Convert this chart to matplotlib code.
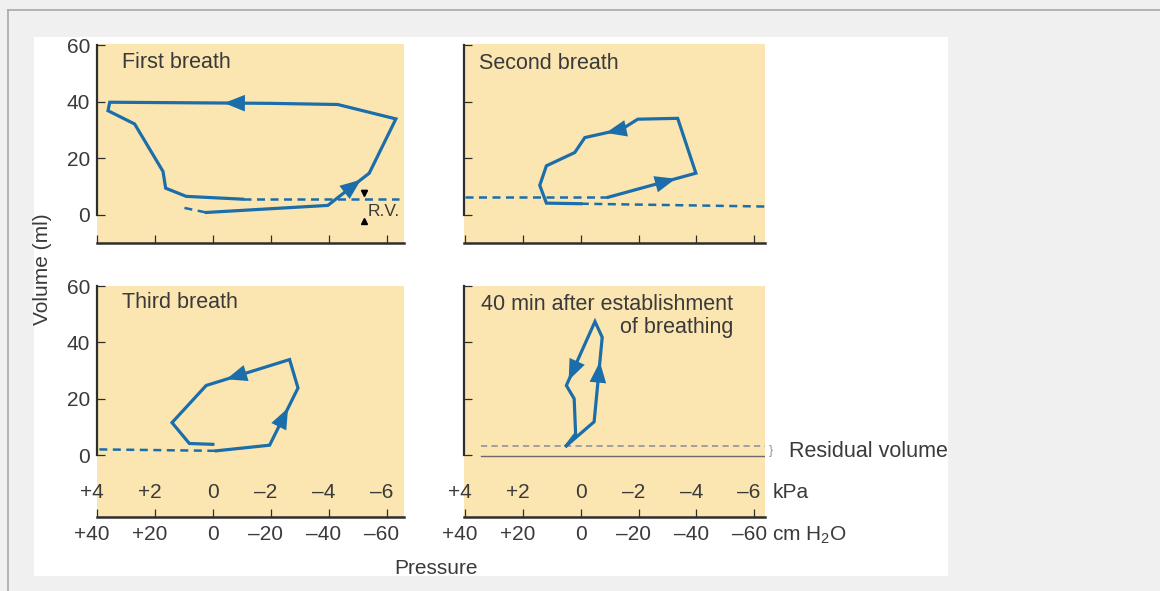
#!/usr/bin/env python3

# Pressure-volume loops of the newborn lung: first, second and third breath,
# and 40 min after breathing is established.

import matplotlib
matplotlib.use("Agg")
import matplotlib.pyplot as plt
from matplotlib.lines import Line2D
from matplotlib.patches import Rectangle
import numpy as np

OUTPUT_FILE = "out.png"

BEIGE = "#fbe6b2"
BLUE = "#1b6ea9"
TEXT = "#3a3a3a"
AXIS = "#2e2e2e"

# Pressure in cm H2O (positive to the left), volume in ml
first_p = [2.3, -39.7, -54.0, -63.2, -43.1, -20.0, 35.6, 36.2, 27.0, 17.2, 16.3, 9.2, -10.3]
first_v = [0.8, 3.3, 14.7, 33.9, 39.0, 39.4, 39.8, 36.8, 32.1, 15.3, 9.4, 6.5, 5.5]
first_lead_p = [9.8, 2.3]
first_lead_v = [2.4, 0.8]
first_rv_p = [-10.3, -64.4]
first_rv_v = [5.5, 5.5]
first_arrows = [(1, 0.68), (5, 0.17)]

second_p = [-9.5, -39.8, -33.5, -19.7, -14.1, -1.4, 2.1, 11.9, 14.2, 11.9, 0.0]
second_v = [6.2, 14.7, 34.1, 33.8, 30.2, 27.3, 22.0, 17.3, 10.4, 4.1, 3.9]
second_lead_p = [40.2, -9.5]
second_lead_v = [6.2, 6.2]
second_rv_p = [0.0, -64.0]
second_rv_v = [3.9, 2.9]
second_arrows = [(0, 0.65), (4, 0.31)]

third_p = [-1.2, -19.6, -29.4, -26.5, 2.3, 14.1, 8.1, 0.0]
third_v = [1.5, 3.5, 23.8, 33.9, 24.7, 11.5, 4.1, 3.8]
third_lead_p = [39.2, -1.2]
third_lead_v = [2.0, 1.5]
third_arrows = [(1, 0.53), (3, 0.64)]

fourth_p = [5.0, -4.6, -7.4, -4.9, 5.0, 2.3, 1.8, 5.0]
fourth_v = [3.3, 11.8, 41.8, 47.4, 24.7, 20.0, 7.6, 3.3]
fourth_arrows = [(1, 0.59), (3, 0.8)]
residual_p = [34.5, -63.8]
residual_v = [3.3, 3.3]
zero_v = [-0.5, -0.5]

cm_ticks = [40, 20, 0, -20, -40, -60]
cm_labels = ["+40", "+20", "0", "\u201320", "\u201340", "\u201360"]
kpa_labels = ["+4", "+2", "0", "\u20132", "\u20134", "\u20136"]
vol_ticks = [0, 20, 40, 60]

# the sign hangs to the left of the tick, digits sit over it
SIGN_SHIFT = 1.8


# Draw an arrow head on the loop, part way along one segment.
def add_arrow(ax, px, vx, seg, frac):
    p0 = np.array([px[seg], vx[seg]])
    p1 = np.array([px[seg + 1], vx[seg + 1]])
    mid = p0 + frac * (p1 - p0)
    step = 0.12 * (p1 - p0)
    ax.annotate(
        "", xy=mid + step, xytext=mid - step,
        arrowprops=dict(arrowstyle="-|>,head_length=0.75,head_width=0.3",
                        color=BLUE, lw=0, mutation_scale=20,
                        shrinkA=0, shrinkB=0),
    )


# Common styling for one panel.
def style_panel(ax, xlim, ylim, show_y):
    ax.set_facecolor(BEIGE)
    ax.set_xlim(*xlim)
    ax.set_ylim(*ylim)
    for side in ["top", "right"]:
        ax.spines[side].set_visible(False)
    ax.spines["left"].set_bounds(0, 60)
    ax.spines["left"].set_color(AXIS)
    ax.spines["left"].set_linewidth(1.6)
    ax.spines["bottom"].set_color(AXIS)
    ax.spines["bottom"].set_linewidth(1.8)
    ax.set_yticks(vol_ticks)
    ax.set_xticks(cm_ticks)
    ax.set_xticklabels([])
    ax.tick_params(direction="in", length=6, width=0.9, colors=AXIS,
                   labelcolor=TEXT, labelsize=15)
    ax.tick_params(axis="y", pad=5)
    if not show_y:
        ax.set_yticklabels([])


# Both pressure scales under a bottom panel.
def pressure_labels(ax):
    for p, kpa, cm in zip(cm_ticks, kpa_labels, cm_labels):
        shift = SIGN_SHIFT if kpa[0] in "+\u2013" else 0
        ax.text(p + shift, -13.3, kpa, ha="center", va="center",
                fontsize=15, color=TEXT, clip_on=False)
        shift = SIGN_SHIFT if cm[0] in "+\u2013" else 0
        ax.text(p + shift, -28.2, cm, ha="center", va="center",
                fontsize=15, color=TEXT, clip_on=False)


def draw_loop(ax, px, vx, arrows):
    ax.plot(px, vx, color=BLUE, lw=2.3, solid_joinstyle="miter")
    for seg, frac in arrows:
        add_arrow(ax, px, vx, seg, frac)


def dashed(ax, px, vx, color=BLUE, lw=1.8):
    ax.plot(px, vx, color=color, lw=lw, linestyle=(0, (3.2, 2.2)))


def main():
    plt.rcParams["font.family"] = ["Liberation Sans", "DejaVu Sans"]
    plt.rcParams["mathtext.fontset"] = "custom"
    plt.rcParams["mathtext.rm"] = "Liberation Sans"

    W, H = 1160, 591
    fig = plt.figure(figsize=(W / 100, H / 100), dpi=100, facecolor="#f0f0f0")

    # page frame and white card, kept behind the panels
    fig.add_artist(Line2D([8 / W, 1], [1 - 10 / H, 1 - 10 / H],
                          color="#a8a8a8", lw=1.2, zorder=-2))
    fig.add_artist(Line2D([8 / W, 8 / W], [0, 1 - 10 / H],
                          color="#a8a8a8", lw=1.2, zorder=-2))
    fig.add_artist(Rectangle((34 / W, 1 - 576 / H), (948 - 34) / W,
                             (576 - 37) / H, transform=fig.transFigure,
                             facecolor="white", edgecolor="none", zorder=-2))

    def box(x0, x1, y0, y1):
        return [x0 / W, 1 - y1 / H, (x1 - x0) / W, (y1 - y0) / H]

    ax1 = fig.add_axes(box(97, 404, 44, 243))
    ax2 = fig.add_axes(box(464, 765, 44, 243))
    ax3 = fig.add_axes(box(97, 404, 285.5, 517))
    ax4 = fig.add_axes(box(464, 765, 285.5, 517))

    style_panel(ax1, (40, -66), (-10, 60.4), True)
    style_panel(ax2, (40.4, -63.7), (-10, 60.4), False)
    style_panel(ax3, (40, -66), (-22, 60.2), True)
    style_panel(ax4, (40.4, -63.7), (-22, 60.2), False)
    pressure_labels(ax3)
    pressure_labels(ax4)

    # First breath
    draw_loop(ax1, first_p, first_v, first_arrows)
    dashed(ax1, first_lead_p, first_lead_v)
    dashed(ax1, first_rv_p, first_rv_v)
    ax1.plot([-52.2], [7.6], marker="v", color="black", ms=4.5)
    ax1.plot([-52.2], [8.9], marker="_", color="black", ms=5, mew=1)
    ax1.plot([-52.2], [-2.2], marker="^", color="black", ms=4.5)
    ax1.text(-53.5, 1.0, "R.V.", ha="left", va="center", fontsize=12.5,
             color=TEXT)
    ax1.text(31.5, 54.0, "First breath", ha="left", va="center",
             fontsize=15.5, color=TEXT)

    # Second breath
    draw_loop(ax2, second_p, second_v, second_arrows)
    dashed(ax2, second_lead_p, second_lead_v)
    dashed(ax2, second_rv_p, second_rv_v)
    ax2.text(35.3, 53.4, "Second breath", ha="left", va="center",
             fontsize=15.5, color=TEXT)

    # Third breath
    draw_loop(ax3, third_p, third_v, third_arrows)
    dashed(ax3, third_lead_p, third_lead_v)
    ax3.text(31.5, 54.0, "Third breath", ha="left", va="center",
             fontsize=15.5, color=TEXT)

    # 40 min after establishment of breathing
    dashed(ax4, residual_p, residual_v, color="#a0a0a0", lw=1.4)
    ax4.plot(residual_p, zero_v, color="#6a6a6a", lw=1.0)
    draw_loop(ax4, fourth_p, fourth_v, fourth_arrows)
    ax4.text(-52.8, 49.4, "40 min after establishment\nof breathing",
             ha="right", va="center", fontsize=15.5, color=TEXT,
             multialignment="right", linespacing=1.15)
    ax4.text(-65.6, 1.4, "}", ha="center", va="center", fontsize=9,
             color="#909090", clip_on=False)
    ax4.text(-72.1, 1.1, "Residual volume", ha="left", va="center",
             fontsize=15.5, color=TEXT, clip_on=False)
    ax4.text(-66.5, -13.3, "kPa", ha="left", va="center", fontsize=15,
             color=TEXT, clip_on=False)
    ax4.text(-66.2, -28.4, "cm H$_\\mathregular{2}$O", ha="left",
             va="center", fontsize=15, color=TEXT, clip_on=False)

    fig.text(436.5 / W, 1 - 568 / H, "Pressure", ha="center", va="center",
             fontsize=15, color=TEXT)
    fig.text(42 / W, 1 - 269 / H, "Volume (ml)", ha="center", va="center",
             rotation=90, fontsize=15, color=TEXT)

    print(f"  Writing {OUTPUT_FILE}")
    fig.savefig(OUTPUT_FILE, dpi=100, facecolor=fig.get_facecolor())


if __name__ == "__main__":
    main()
